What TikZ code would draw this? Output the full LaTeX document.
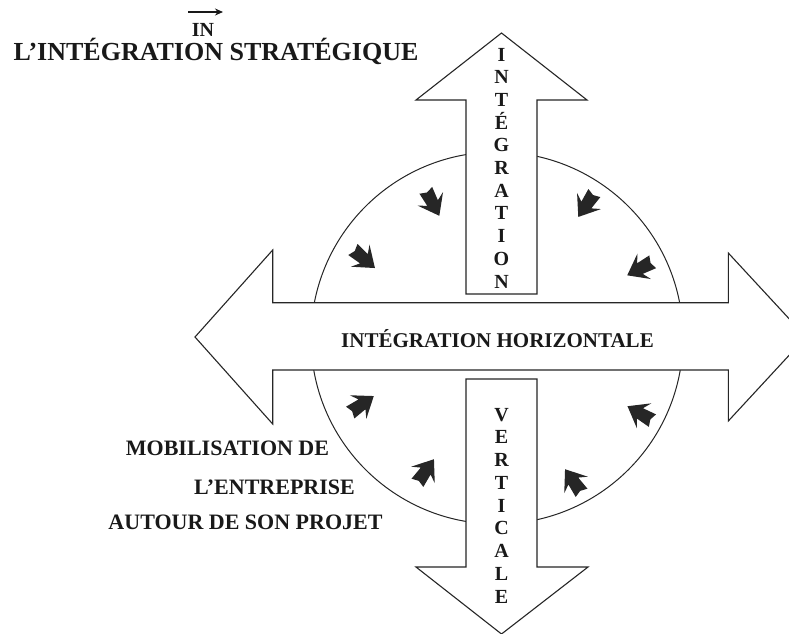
\documentclass[tikz,border=0pt]{standalone}
\usepackage{fontspec}
\setmainfont{Liberation Serif}
\usetikzlibrary{arrows.meta}
\begin{document}
\begin{tikzpicture}[x=1pt,y=-1pt,line join=miter,
  outl/.style={draw=black!85,line width=1.1pt,fill=white},
  dart/.style={fill=black!85,draw=none},
  lbl/.style={font=\fontsize{21}{24}\selectfont\bfseries,text=black!90,inner sep=0pt,anchor=base},
  vlbl/.style={lbl,font=\fontsize{20}{22}\selectfont\bfseries}]
\useasboundingbox (0,0) rectangle (789,633);
\clip (0,0) rectangle (789,633);
\fill[white] (0,0) rectangle (789,633);
% circle
\draw[line width=1pt,black!85] (497,338) circle[radius=186];
% up arrow
\draw[outl] (466,294) -- (466,100) -- (416,100) -- (501.5,33) -- (587,100) -- (537,100) -- (537,294) -- cycle;
% down arrow
\draw[outl] (466,379) -- (466,567) -- (416,567) -- (501.5,634) -- (588,567) -- (537,567) -- (537,379) -- cycle;
% horizontal arrow
\draw[outl] (272.7,302.7) -- (272.7,250) -- (195,337) -- (272.7,424) -- (272.7,370) -- (728.3,370) -- (728.3,421) -- (806,337) -- (728.3,253) -- (728.3,302.7) -- cycle;
% small darts
\foreach \px/\py/\a in {432/202/-62, 363/258/-40, 587/204/-124, 641/268/-152, 361/405/35, 425/472/55, 574/482/125, 641/414/150}
  \fill[dart,shift={(\px,\py)},rotate=\a,scale=1.2] (13,0) -- (-3,12) -- (1,5) -- (-11,6) -- (-9,0) -- (-11,-6) -- (1,-5) -- (-3,-12) -- cycle;
% title
\node[lbl,font=\fontsize{26}{30}\selectfont\bfseries] (title) at (216,60) {L’INTÉGRATION STRATÉGIQUE};
\node[lbl,font=\fontsize{20}{24}\selectfont\bfseries] (in) at (203,36.5) {IN};
\coordinate (ina) at (188,12);
\coordinate (inb) at (223,12);
\draw[line width=2.2pt,black!90,-{Stealth[length=8pt,width=7pt]}] (ina) -- (inb);
% vertical texts
\foreach \l [count=\i] in {I,N,T,É,G,R,A,T,I,O,N}
  \node[vlbl] (u\i) at (501.5,{61+(\i-1)*22.7}) {\l};
\foreach \l [count=\i] in {V,E,R,T,I,C,A,L,E}
  \node[vlbl] (d\i) at (501.5,{421+(\i-1)*22.75}) {\l};
% horizontal text
\node[lbl] (hz) at (497.5,347) {INTÉGRATION HORIZONTALE};
% left texts
\node[lbl,font=\fontsize{22}{24}\selectfont\bfseries] (m1) at (227.5,455) {MOBILISATION DE};
\node[lbl,font=\fontsize{22}{24}\selectfont\bfseries] (m2) at (274.5,494) {L’ENTREPRISE};
\node[lbl,font=\fontsize{22}{24}\selectfont\bfseries] (m3) at (245.5,529) {AUTOUR DE SON PROJET};
\end{tikzpicture}
\end{document}
